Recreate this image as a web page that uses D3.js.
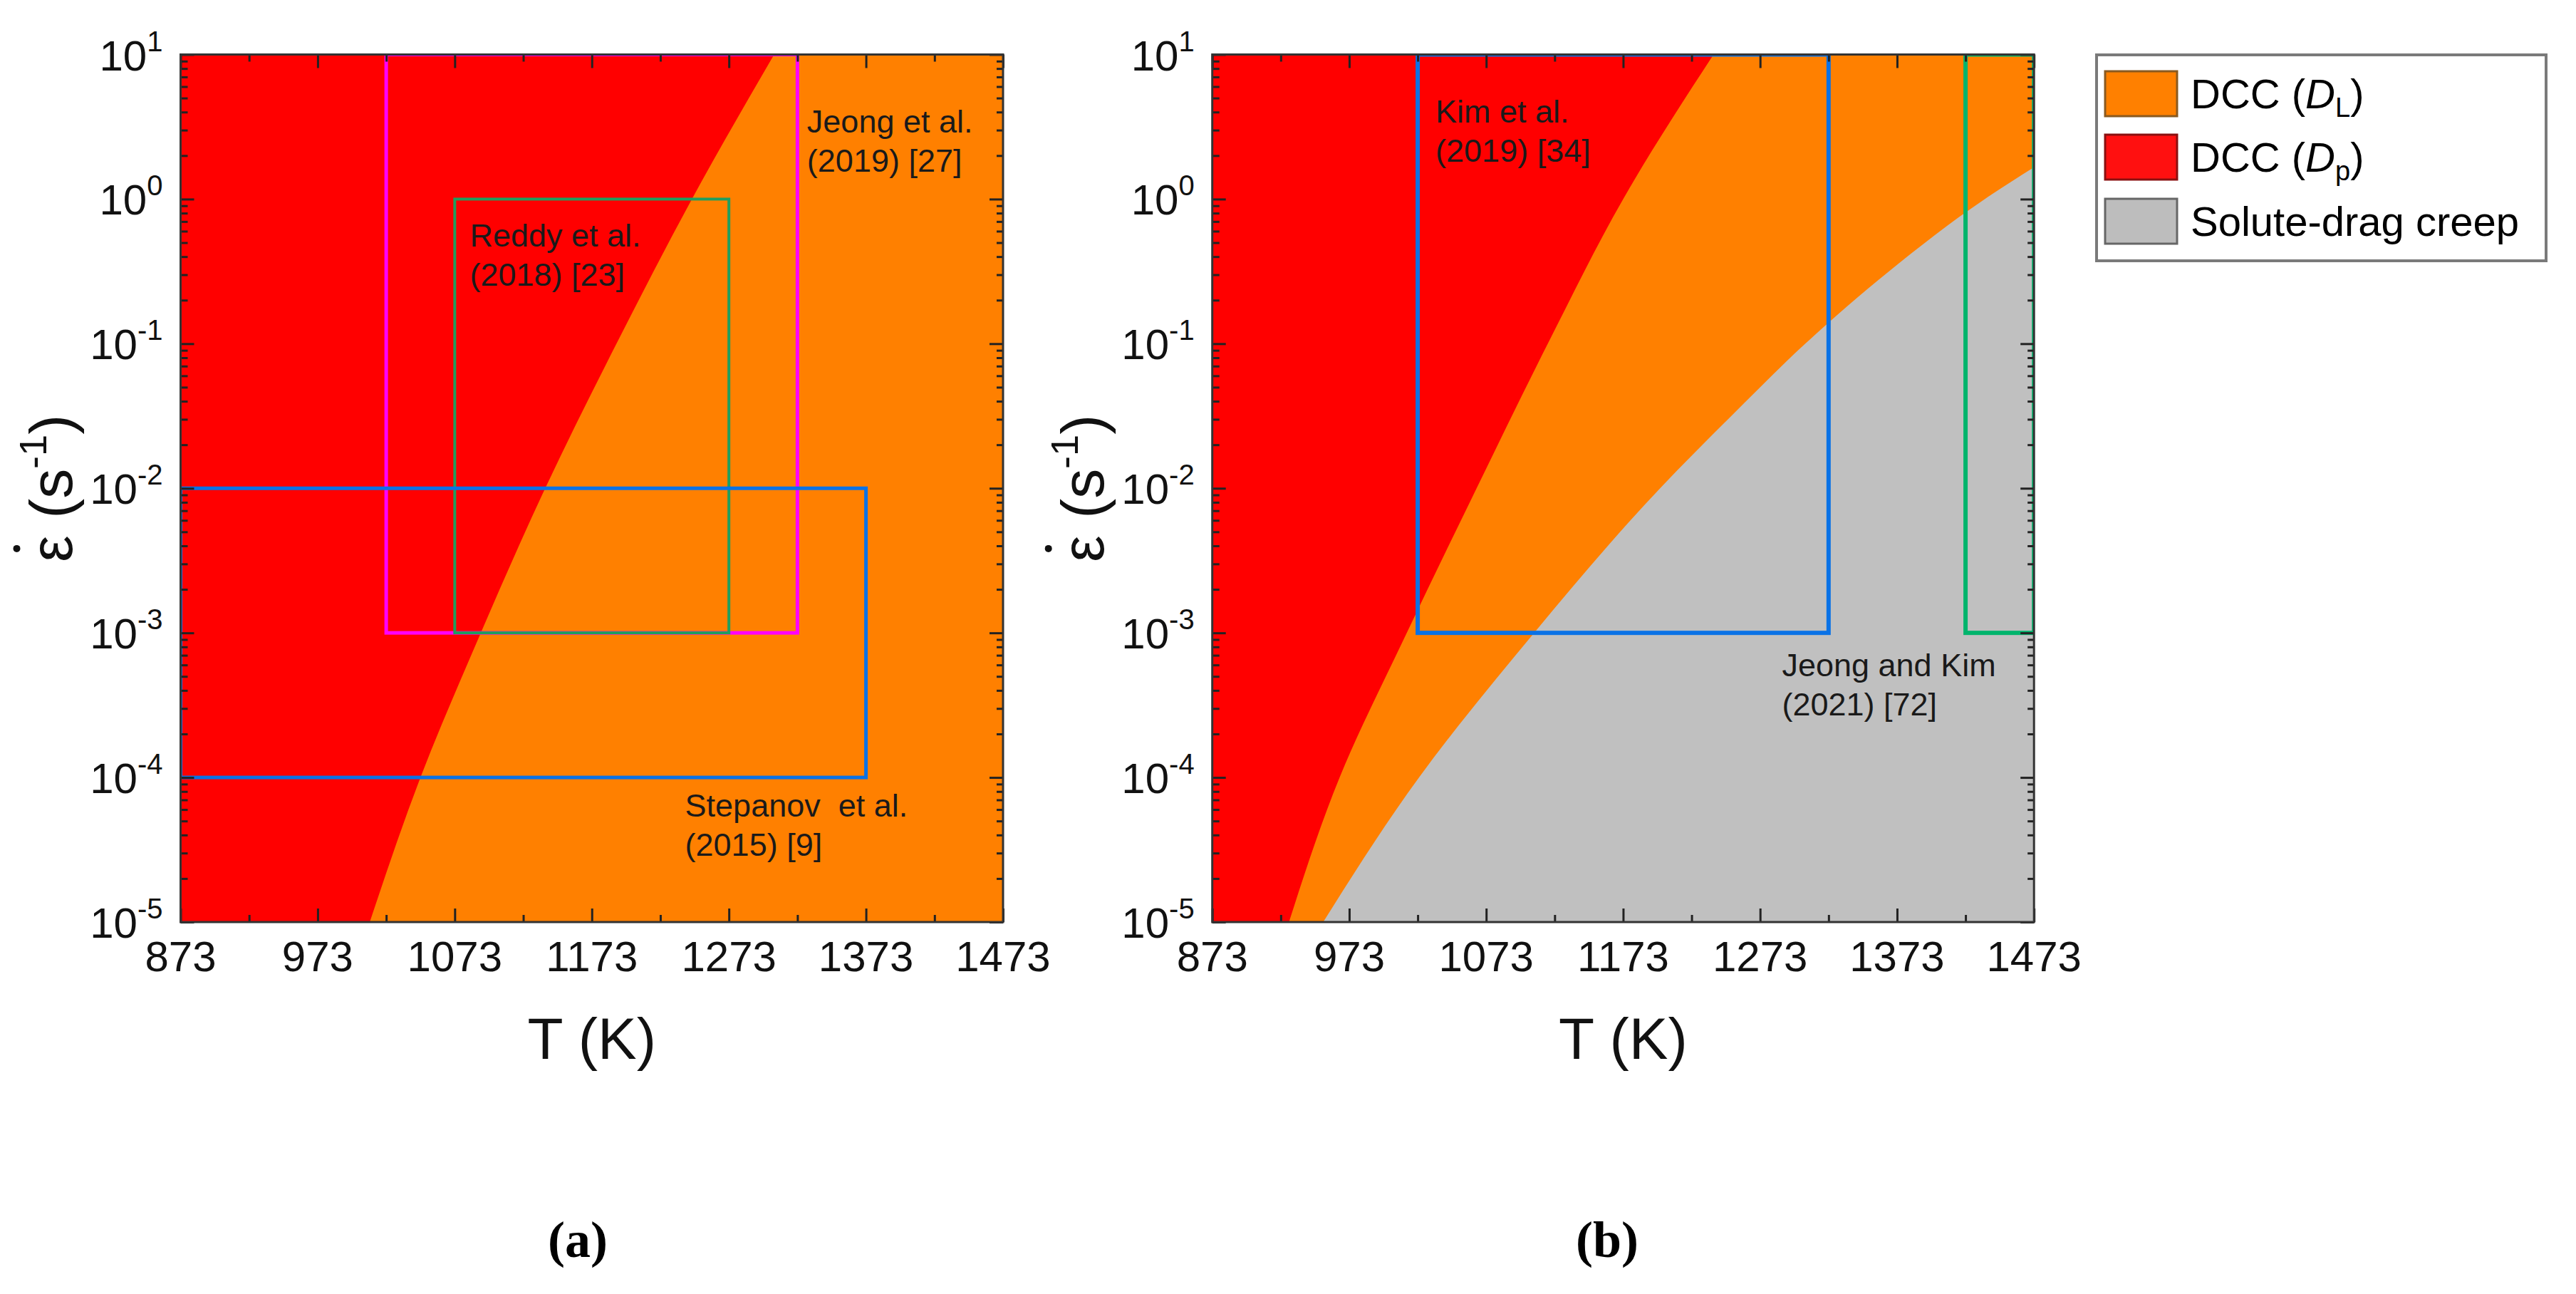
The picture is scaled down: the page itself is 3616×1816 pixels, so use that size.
<!DOCTYPE html>
<html><head><meta charset="utf-8">
<script src="https://cdn.jsdelivr.net/npm/d3@7"></script>
<style>
html,body{margin:0;padding:0;background:#fff;}
</style></head><body>
<svg id="chart" width="3616" height="1816" xmlns="http://www.w3.org/2000/svg" font-family="'Liberation Sans',Arial,sans-serif"></svg>
<script>
// ---------------- data ----------------
const tDomain = [873, 1473];
const rateDomain = [1e-5, 1e1];
const tTicks = [873, 973, 1073, 1173, 1273, 1373, 1473];
const tMinorTicks = [923, 1023, 1123, 1223, 1323, 1423];
const rateExps = [-5, -4, -3, -2, -1, 0, 1];

// panel (a): boundary DCC(Dp) | DCC(DL)  (log10 strain rate -> T in K)
const bndA_logRate = [-5, -4, -3, -2, -1, 0, 1];
const bndA_T       = [1011, 1048, 1092, 1139, 1191, 1246, 1306];

// panel (b): boundary DCC(Dp) | DCC(DL)
const bndBred_logRate = [-5, -4, -3, -2, -1, 0, 1];
const bndBred_T       = [929, 966, 1015, 1066, 1118, 1173, 1239];

// panel (b): boundary DCC(DL) | solute-drag creep (reaches right edge at ~10^0.22)
const bndBgray_logRate = [-5, -4, -3, -2, -1.5, -1, -0.5, 0, 0.22];
const bndBgray_T       = [954, 1024, 1108, 1200, 1252, 1306, 1367, 1437, 1473];

// experimental windows
const studiesA_label = [["Jeong et al.", "(2019) [27]"], ["Reddy et al.", "(2018) [23]"], ["Stepanov  et al.", "(2015) [9]"]];
const studiesA_T0 = [1023, 1073, 873];
const studiesA_T1 = [1323, 1273, 1373];
const studiesA_r0 = [1e-3, 1e-3, 1e-4];
const studiesA_r1 = [1e1, 1e0, 1e-2];

const studiesB_label = [["Kim et al.", "(2019) [34]"], ["Jeong and Kim", "(2021) [72]"]];
const studiesB_T0 = [1023, 1423];
const studiesB_T1 = [1323, 1473];
const studiesB_r0 = [1e-3, 1e-3];
const studiesB_r1 = [1e1, 1e1];

const legendLabels = ["DCC (D_L)", "DCC (D_p)", "Solute-drag creep"];

// ---------------- styles / layout ----------------
const C = {red: "#ff0000", orange: "#ff8000", gray: "#c0c0c0"};
const boxColorsA = ["#ff00ff", "#1f9e5e", "#0a72e6"];
const boxWidthsA = [5, 4, 5];
const boxColorsB = ["#0a72e6", "#00b46c"];
const boxWidthsB = [6, 6];
// annotation anchors (data coords of first-line baseline)
const notesA_T = [1330, 1084, 1241], notesA_lr = [0.46, -0.33, -4.27];
const notesB_T = [1036, 1289], notesB_lr = [0.53, -3.30];

const svg = d3.select("#chart");
const TOP = 76.5, HEIGHT = 1217.5;
const panels = [
  {left: 253.5, width: 1154.5, tag: "(a)", tagX: 811},
  {left: 1701.7, width: 1153.5, tag: "(b)", tagX: 2256}
];
const zipB = (lr, T) => lr.map((e, i) => ({e, T: T[i]})).sort((a, b) => b.e - a.e);

function drawPanel(idx, layers, studies, notes) {
  const p = panels[idx];
  const x = d3.scaleLinear().domain(tDomain).range([p.left, p.left + p.width]);
  const y = d3.scaleLog().domain(rateDomain).range([TOP + HEIGHT, TOP]);
  const g = svg.append("g");
  const clipId = "clip" + idx;
  g.append("clipPath").attr("id", clipId).append("rect")
    .attr("x", p.left).attr("y", TOP).attr("width", p.width).attr("height", HEIGHT);
  const plot = g.append("g").attr("clip-path", `url(#${clipId})`);

  // background region
  plot.append("rect").attr("x", p.left).attr("y", TOP).attr("width", p.width).attr("height", HEIGHT)
    .attr("fill", layers.base);
  const area = d3.area().curve(d3.curveMonotoneY)
    .y(d => y(Math.pow(10, d.e))).x0(x(tDomain[0]) - 5).x1(d => x(d.T));
  layers.regions.forEach(r => {
    const pts = zipB(r.lr, r.T);
    plot.append("path").datum(pts).attr("d", area).attr("fill", r.color);
    const topPt = pts[0];
    if (topPt.e < Math.log10(rateDomain[1])) {
      // region continues at full reach above the last boundary point
      plot.append("rect").attr("x", x(tDomain[0]) - 5).attr("y", TOP)
        .attr("width", x(topPt.T) - x(tDomain[0]) + 10)
        .attr("height", y(Math.pow(10, topPt.e)) - TOP + 1).attr("fill", r.color);
    }
  });

  // study windows
  studies.T0.forEach((t0, i) => {
    plot.append("rect")
      .attr("x", x(t0)).attr("y", y(studies.r1[i]))
      .attr("width", x(studies.T1[i]) - x(t0))
      .attr("height", y(studies.r0[i]) - y(studies.r1[i]))
      .attr("fill", "none").attr("stroke", studies.colors[i]).attr("stroke-width", studies.widths[i]);
  });

  // annotations
  notes.labels.forEach((lines, i) => {
    const t = g.append("text").attr("x", x(notes.T[i])).attr("y", y(Math.pow(10, notes.lr[i])))
      .attr("font-size", 45).attr("fill", "#1a1a1a").style("white-space", "pre");
    lines.forEach((ln, j) => t.append("tspan").attr("x", x(notes.T[i])).attr("dy", j === 0 ? 0 : 55).text(ln));
  });

  // axes (ticks inward)
  const bottom = TOP + HEIGHT, right = p.left + p.width;
  const styleAxis = sel => { sel.selectAll(".domain").remove(); sel.selectAll("line").attr("stroke", "#222").attr("stroke-width", 3); };
  g.append("g").attr("transform", `translate(0,${bottom})`)
    .call(d3.axisBottom(x).tickValues(tTicks).tickSize(-19).tickSizeOuter(0).tickFormat("")).call(styleAxis);
  g.append("g").attr("transform", `translate(0,${bottom})`)
    .call(d3.axisBottom(x).tickValues(tMinorTicks).tickSize(-10).tickSizeOuter(0).tickFormat("")).call(styleAxis);
  g.append("g").attr("transform", `translate(0,${TOP})`)
    .call(d3.axisTop(x).tickValues(tTicks).tickSize(-19).tickSizeOuter(0).tickFormat("")).call(styleAxis);
  g.append("g").attr("transform", `translate(0,${TOP})`)
    .call(d3.axisTop(x).tickValues(tMinorTicks).tickSize(-10).tickSizeOuter(0).tickFormat("")).call(styleAxis);

  const majorR = rateExps.map(e => Math.pow(10, e));
  const minorR = [];
  rateExps.slice(0, -1).forEach(e => { for (let m = 2; m <= 9; m++) minorR.push(m * Math.pow(10, e)); });
  g.append("g").attr("transform", `translate(${p.left},0)`)
    .call(d3.axisLeft(y).tickValues(majorR).tickSize(-19).tickSizeOuter(0).tickFormat("")).call(styleAxis);
  g.append("g").attr("transform", `translate(${p.left},0)`)
    .call(d3.axisLeft(y).tickValues(minorR).tickSize(-10).tickSizeOuter(0).tickFormat("")).call(styleAxis);
  g.append("g").attr("transform", `translate(${right},0)`)
    .call(d3.axisRight(y).tickValues(majorR).tickSize(-19).tickSizeOuter(0).tickFormat("")).call(styleAxis);
  g.append("g").attr("transform", `translate(${right},0)`)
    .call(d3.axisRight(y).tickValues(minorR).tickSize(-9).tickSizeOuter(0).tickFormat("")).call(styleAxis);

  // frame
  g.append("rect").attr("x", p.left).attr("y", TOP).attr("width", p.width).attr("height", HEIGHT)
    .attr("fill", "none").attr("stroke", "#333").attr("stroke-width", 3);

  // tick labels
  g.selectAll(".xl").data(tTicks).join("text").attr("class", "xl")
    .attr("x", d => x(d)).attr("y", bottom + 69).attr("text-anchor", "middle")
    .attr("font-size", 60).attr("fill", "#111").text(d => d);
  const yl = g.selectAll(".yl").data(rateExps).join("text").attr("class", "yl")
    .attr("x", p.left - 25).attr("y", d => y(Math.pow(10, d)) + 22).attr("text-anchor", "end")
    .attr("font-size", 60).attr("fill", "#111");
  yl.append("tspan").text("10");
  yl.append("tspan").attr("font-size", 40).attr("dy", -27).text(d => d < 0 ? "-" + (-d) : "" + d);

  // axis titles
  g.append("text").attr("x", p.left + p.width / 2).attr("y", 1486).attr("text-anchor", "middle")
    .attr("font-size", 82).attr("fill", "#111").text("T (K)");
  const yt = g.append("g").attr("transform", `translate(${p.left - 153},${TOP + HEIGHT / 2}) rotate(-90)`);
  const ytt = yt.append("text").attr("text-anchor", "middle").attr("font-size", 84).attr("fill", "#111");
  ytt.append("tspan").text("ε (s");
  ytt.append("tspan").attr("font-size", 54).attr("dy", -36).text("-1");
  ytt.append("tspan").attr("dy", 36).text(")");
  const ext = ytt.node().getExtentOfChar(0);
  yt.append("circle").attr("cx", ext.x + ext.width / 2).attr("cy", -77).attr("r", 5).attr("fill", "#111");

  // panel tag
  svg.append("text").attr("x", p.tagX).attr("y", 1764).attr("text-anchor", "middle")
    .attr("font-family", "'Liberation Serif','Times New Roman',serif").attr("font-weight", "bold")
    .attr("font-size", 72).attr("fill", "#000").text(p.tag);
}

drawPanel(0,
  {base: C.orange, regions: [{lr: bndA_logRate, T: bndA_T, color: C.red}]},
  {T0: studiesA_T0, T1: studiesA_T1, r0: studiesA_r0, r1: studiesA_r1, colors: boxColorsA, widths: boxWidthsA},
  {labels: studiesA_label, T: notesA_T, lr: notesA_lr});

drawPanel(1,
  {base: C.gray, regions: [
    {lr: bndBgray_logRate, T: bndBgray_T, color: C.orange},
    {lr: bndBred_logRate, T: bndBred_T, color: C.red}]},
  {T0: studiesB_T0, T1: studiesB_T1, r0: studiesB_r0, r1: studiesB_r1, colors: boxColorsB, widths: boxWidthsB},
  {labels: studiesB_label, T: notesB_T, lr: notesB_lr});

// ---------------- legend ----------------
const lg = svg.append("g");
lg.append("rect").attr("x", 2943).attr("y", 77).attr("width", 631).attr("height", 289)
  .attr("fill", "#fff").attr("stroke", "#7a7a7a").attr("stroke-width", 4);
const swFill = [C.orange, "#ff1010", "#bdbdbd"];
const swStroke = ["#8a5a20", "#8a1010", "#666"];
const rowY = [100, 189, 279];
legendLabels.forEach((lab, i) => {
  lg.append("rect").attr("x", 2955).attr("y", rowY[i]).attr("width", 101).attr("height", 63)
    .attr("fill", swFill[i]).attr("stroke", swStroke[i]).attr("stroke-width", 3);
  const t = lg.append("text").attr("x", 3075).attr("y", rowY[i] + 52).attr("font-size", 58).attr("fill", "#000");
  const m = lab.match(/^(.*\()D_(\w)(\))$/);
  if (m) {
    t.append("tspan").text(m[1]);
    t.append("tspan").attr("font-style", "italic").text("D");
    t.append("tspan").attr("font-size", 38).attr("dy", 12).text(m[2]);
    t.append("tspan").attr("dy", -12).text(m[3]);
  } else {
    t.text(lab);
  }
});
</script>
</body></html>
